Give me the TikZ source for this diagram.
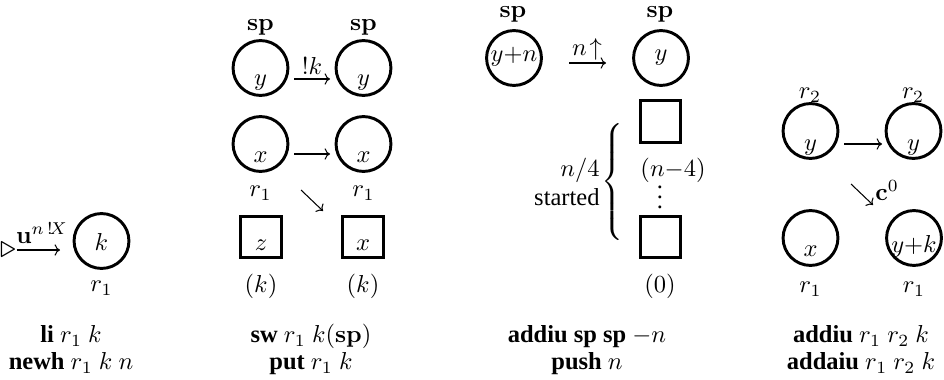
\documentclass[tikz,border=0pt]{standalone}
\usepackage[no-math]{fontspec}
\setmainfont{Liberation Serif}
\usetikzlibrary{arrows.meta}
\begin{document}
\begin{tikzpicture}[x=0.4082pt,y=-0.4082pt,
  reg/.style={circle,draw,line width=1.2pt,minimum size=22.4pt,inner sep=0pt},
  cell/.style={rectangle,draw,line width=1.2pt,minimum width=16.4pt,minimum height=17pt,inner sep=0pt},
  lbl/.style={anchor=base,inner sep=0pt,yshift=-1pt},
  lble/.style={anchor=base east,inner sep=0pt,yshift=-1pt},
  arr/.style={-{To[length=2.2pt,width=4.6pt]},line width=0.42pt},
  capline/.style={anchor=base,inner sep=0pt,yshift=-1pt}]
\useasboundingbox (0,0) rectangle (944,379);
% ---------- panel 1 ----------
\node[reg] (p1c) at (101.5,241) {};
\node[lbl] (p1k) at (101.5,248) {$k$};
\node[lbl] (p1r) at (101.5,289) {$r_1$};
\node[inner sep=0pt,scale=1.3] (p1t) at (8,250) {$\triangleright$};
\coordinate (p1e) at (60,250);
\draw[arr] (p1t.east) -- (p1e);
\node[lbl] (p1u) at (42,241) {$\mathbf{u}^{n\,!\!X}$};
\node[capline] (p1a) at (71,340) {\textbf{li} $r_1$ $k$};
\node[capline] (p1b) at (71,367) {\textbf{newh} $r_1$ $k$ $n$};
% ---------- panel 2 ----------
\node[reg] (p2a) at (260.5,68) {};
\node[reg] (p2b) at (363.5,68) {};
\node[reg] (p2c) at (260.5,144) {};
\node[reg] (p2d) at (363.5,144) {};
\node[lbl] (p2sa) at (260.5,28) {$\mathbf{sp}$};
\node[lbl] (p2sb) at (363.5,28) {$\mathbf{sp}$};
\node[lbl] (p2ya) at (260.5,83) {$y$};
\node[lbl] (p2yb) at (363.5,83) {$y$};
\node[lbl] (p2xa) at (260.5,160) {$x$};
\node[lbl] (p2xb) at (363.5,160) {$x$};
\node[lbl] (p2ra) at (260.5,194) {$r_1$};
\node[lbl] (p2rb) at (363.5,194) {$r_1$};
\coordinate (p2a1) at (294,79); \coordinate (p2a2) at (330,79);
\draw[arr] (p2a1) -- (p2a2);
\node[lbl] (p2k) at (312,72) {$!k$};
\coordinate (p2b1) at (294,154); \coordinate (p2b2) at (330,154);
\draw[arr] (p2b1) -- (p2b2);
\coordinate (p2d1) at (301,190); \coordinate (p2d2) at (323,211);
\draw[arr] (p2d1) -- (p2d2);
\node[cell] (p2q1) at (261,237) {};
\node[cell] (p2q2) at (363,237) {};
\node[lbl] (p2z) at (261,248) {$z$};
\node[lbl] (p2x) at (363,248) {$x$};
\node[lbl] (p2ka) at (261,290) {$(k)$};
\node[lbl] (p2kb) at (363,290) {$(k)$};
\node[capline] (p2ca) at (311,340) {\textbf{sw} $r_1$ $k(\mathbf{sp})$};
\node[capline] (p2cb) at (311,367) {\textbf{put} $r_1$ $k$};
% ---------- panel 3 ----------
\node[reg] (p3a) at (514,58) {};
\node[reg] (p3b) at (661,58) {};
\node[lbl] (p3sa) at (513,15) {$\mathbf{sp}$};
\node[lbl] (p3sb) at (660,15) {$\mathbf{sp}$};
\node[lbl] (p3ya) at (514,59) {$y{+}n$};
\node[lbl] (p3yb) at (661,58) {$y$};
\coordinate (p3a1) at (569,63); \coordinate (p3a2) at (606,63);
\draw[arr] (p3a1) -- (p3a2);
\node[lbl] (p3n) at (587,53) {$n\!\uparrow$};
\node[cell] (p3q1) at (660.5,121.5) {};
\node[cell] (p3q2) at (660.5,237) {};
\node[lbl] (p3n4) at (673,174) {$(n{-}4)$};
\node[lbl] (p3dots) at (660,206) {$\vdots$};
\node[lbl] (p3zero) at (660,290) {$(0)$};
\node[inner sep=0pt] (p3br) at (614,182.5) {$\left\{\vrule height 22pt depth 22pt width 0pt\right.$};
\node[lble] (p3q) at (600,174) {$n/4$};
\node[lble] (p3st) at (600,203) {started};
\node[capline] (p3ca) at (587,340) {\textbf{addiu sp sp} $-n$};
\node[capline] (p3cb) at (587,367) {\textbf{push} $n$};
% ---------- panel 4 ----------
\node[reg] (p4a) at (810.5,131) {};
\node[reg] (p4b) at (913.5,131) {};
\node[reg] (p4c) at (810.5,238) {};
\node[reg] (p4d) at (914,238) {};
\node[lbl] (p4ra) at (810,96) {$r_2$};
\node[lbl] (p4rb) at (913,96) {$r_2$};
\node[lbl] (p4ya) at (810.5,148) {$y$};
\node[lbl] (p4yb) at (913.5,148) {$y$};
\coordinate (p4a1) at (844,144); \coordinate (p4a2) at (882,144);
\draw[arr] (p4a1) -- (p4a2);
\coordinate (p4d1) at (851,184); \coordinate (p4d2) at (873,205);
\draw[arr] (p4d1) -- (p4d2);
\node[lbl] (p4c0) at (887,198) {$\mathbf{c}^0$};
\node[lbl] (p4x) at (810.5,254) {$x$};
\node[lbl] (p4yk) at (914,250) {$y{+}k$};
\node[lbl] (p4r1a) at (810.5,290) {$r_1$};
\node[lbl] (p4r1b) at (914,290) {$r_1$};
\node[capline] (p4ca) at (861,340) {\textbf{addiu} $r_1$ $r_2$ $k$};
\node[capline] (p4cb) at (861,367) {\textbf{addaiu} $r_1$ $r_2$ $k$};
\end{tikzpicture}
\end{document}
